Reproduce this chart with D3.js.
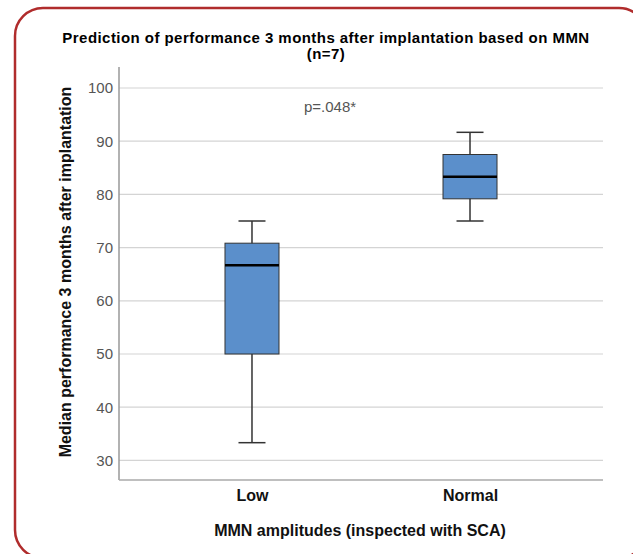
<!DOCTYPE html>
<html><head><meta charset="utf-8">
<script src="https://cdn.jsdelivr.net/npm/d3@7"></script>
<style>body{margin:0;background:#fff}svg{display:block}</style>
</head><body>
<script>
const categories = ["Low", "Normal"];
const whiskerLow = [33.33, 75];
const q1 = [50, 79.17];
const median = [66.67, 83.33];
const q3 = [70.83, 87.5];
const whiskerHigh = [75, 91.67];
const yTicks = [30, 40, 50, 60, 70, 80, 90, 100];
const title = ["Prediction of performance 3 months after implantation based on MMN", "(n=7)"];
const annotation = "p=.048*";

(function () {
const W = 633, H = 554;
const svg = d3.select("body").append("svg").attr("width", W).attr("height", H);
const font = "Arial, 'Liberation Sans', sans-serif";

svg.append("rect").attr("x", 15).attr("y", 8).attr("width", 632).attr("height", 550)
  .attr("rx", 28).attr("fill", "none").attr("stroke", "#b02c2c").attr("stroke-width", 2.5);

const pLeft = 119, pRight = 603, pTop = 67, pBottom = 480;
const y = d3.scaleLinear().domain([30, 100]).range([460.4, 88]);
const x = d3.scalePoint().domain(categories).range([pLeft, pRight]).padding(0.61);

// grid
svg.append("g").selectAll("line").data(yTicks).join("line")
  .attr("x1", pLeft).attr("x2", pRight).attr("y1", d => y(d)).attr("y2", d => y(d))
  .attr("stroke", "#d4d4d4").attr("stroke-width", 1.2);

// y axis
const yAxis = svg.append("g").attr("transform", `translate(${pLeft},0)`)
  .call(d3.axisLeft(y).tickValues(yTicks).tickSize(0).tickPadding(6));
yAxis.select(".domain").remove();
yAxis.selectAll("text").attr("font-family", font).attr("font-size", 15).attr("fill", "#555");
svg.append("line").attr("x1", pLeft).attr("x2", pLeft).attr("y1", pTop).attr("y2", pBottom)
  .attr("stroke", "#999").attr("stroke-width", 1.5);

// x axis
const xAxis = svg.append("g").attr("transform", `translate(0,${pBottom})`)
  .call(d3.axisBottom(x).tickSize(0).tickPadding(10));
xAxis.select(".domain").remove();
xAxis.selectAll("text").attr("font-family", font).attr("font-size", 16).attr("font-weight", "bold").attr("fill", "#111");
svg.append("line").attr("x1", pLeft).attr("x2", pRight).attr("y1", pBottom).attr("y2", pBottom)
  .attr("stroke", "#aaa").attr("stroke-width", 1.5);

// boxes
const bw = 54, cw = 27;
const g = svg.append("g").selectAll("g").data(categories).join("g");
g.append("line").attr("x1", d => x(d)).attr("x2", d => x(d))
  .attr("y1", (d, i) => y(whiskerLow[i])).attr("y2", (d, i) => y(whiskerHigh[i]))
  .attr("stroke", "#333").attr("stroke-width", 1.5);
g.append("line").attr("x1", d => x(d) - cw / 2).attr("x2", d => x(d) + cw / 2)
  .attr("y1", (d, i) => y(whiskerLow[i])).attr("y2", (d, i) => y(whiskerLow[i]))
  .attr("stroke", "#333").attr("stroke-width", 1.5);
g.append("line").attr("x1", d => x(d) - cw / 2).attr("x2", d => x(d) + cw / 2)
  .attr("y1", (d, i) => y(whiskerHigh[i])).attr("y2", (d, i) => y(whiskerHigh[i]))
  .attr("stroke", "#333").attr("stroke-width", 1.5);
g.append("rect").attr("x", d => x(d) - bw / 2).attr("width", bw)
  .attr("y", (d, i) => y(q3[i])).attr("height", (d, i) => y(q1[i]) - y(q3[i]))
  .attr("fill", "#5b8fcb").attr("stroke", "#333").attr("stroke-width", 1);
g.append("line").attr("x1", d => x(d) - bw / 2).attr("x2", d => x(d) + bw / 2)
  .attr("y1", (d, i) => y(median[i])).attr("y2", (d, i) => y(median[i]))
  .attr("stroke", "#000").attr("stroke-width", 2.5);

// titles
svg.append("text").attr("x", 326).attr("y", 42.5).attr("text-anchor", "middle")
  .attr("font-family", font).attr("font-size", 15).attr("letter-spacing", 0.45)
  .attr("font-weight", "bold").attr("fill", "#000").text(title[0]);
svg.append("text").attr("x", 326).attr("y", 59).attr("text-anchor", "middle")
  .attr("font-family", font).attr("font-size", 15).attr("letter-spacing", 0.45)
  .attr("font-weight", "bold").attr("fill", "#000").text(title[1]);
svg.append("text").attr("x", 330).attr("y", 112).attr("text-anchor", "middle")
  .attr("font-family", font).attr("font-size", 15).attr("fill", "#555").text(annotation);
svg.append("text").attr("x", 360).attr("y", 535.5).attr("text-anchor", "middle")
  .attr("font-family", font).attr("font-size", 16).attr("font-weight", "bold").attr("fill", "#111")
  .text("MMN amplitudes (inspected with SCA)");
svg.append("text").attr("transform", "translate(70.5,272) rotate(-90)").attr("text-anchor", "middle")
  .attr("font-family", font).attr("font-size", 16).attr("font-weight", "bold").attr("fill", "#111")
  .text("Median performance 3 months after implantation");
})();
</script>
</body></html>
